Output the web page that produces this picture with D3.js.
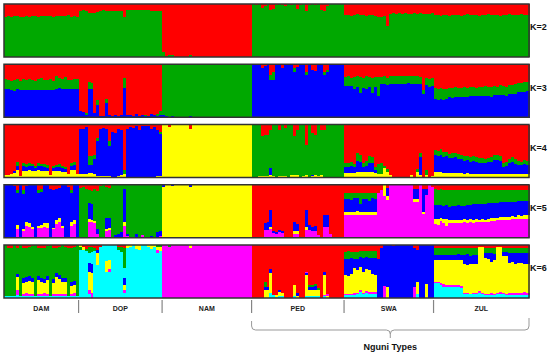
<!DOCTYPE html>
<html>
<head>
<meta charset="utf-8">
<script src="https://cdn.jsdelivr.net/npm/d3@7"></script>
<style>
body { margin: 0; background: #fff; }
svg { display: block; font-family: "Liberation Sans", Arial, sans-serif; }
</style>
</head>
<body>
<svg id="chart" width="550" height="356"></svg>
<script>
// populations, in plot order, and how many animals each has
var groups = ["DAM", "DOP", "NAM", "PED", "SWA", "ZUL"];
var groupSizes = [25, 28, 30, 31, 30, 32];
var kLabels = ["K=2", "K=3", "K=4", "K=5", "K=6"];
var bracketLabel = "Nguni Types";

// membership per animal, one string per population.
// each animal: cluster letter + percent, listed top to bottom (no number = 100)
var k2 = [
  "r24g76 r23g77 r24g76 r22g78 r23g77 r24g76 r24g76 r23g77 r24g76 r23g77 r22g78 r24g76 r23g77 r23g77 r22g78 r23g77 r24g76 r23g77 r22g78 r23g77 r22g78 r21g79 r24g76 r23g77 r24g76",
  "r13g87 r12g88 r13g87 r17g83 r17g83 r17g83 r16g84 r13g87 r12g88 r13g87 r13g87 r14g86 r13g87 r14g86 r13g87 r25g75 r12g88 r11g89 r11g89 r12g88 r11g89 r12g88 r11g89 r12g88 r13g87 r13g87 r14g86 r14g86",
  "r91g9 r98g2 r97g3 r97g3 r r r r r r97g3 r r r r r r r r r r r r r r r r r r r r",
  "g r2g98 g r8g92 r3g97 g r11g89 r10g90 r2g98 g r1g99 r3g97 g r2g98 g r10g90 r1g99 g r13g87 r2g98 g r1g99 g r11g89 r13g87 r3g97 g g g g g",
  "r21g79 r20g80 r22g78 r21g79 r19g81 r21g79 r20g80 r22g78 r21g79 r20g80 r22g78 r25g75 r25g75 r23g77 r41g59 r18g82 r17g83 r18g82 r17g83 r18g82 r17g83 r18g82 r19g81 r17g83 r18g82 r17g83 r18g82 r19g81 r18g82 r17g83",
  "r20g80 r21g79 r22g78 r21g79 r20g80 r22g78 r21g79 r20g80 r21g79 r22g78 r20g80 r19g81 r21g79 r20g80 r21g79 r22g78 r20g80 r21g79 r19g81 r20g80 r21g79 r20g80 r22g78 r21g79 r20g80 r19g81 r21g79 r20g80 r20g80 r19g81 r21g79 r20g80"
];
var k3 = [
  "r28g18b54 r30g17b53 r31g18b51 r29g21b50 r27g19b54 r32g17b51 r28g20b52 r30g18b52 r27g21b52 r29g19b52 r31g17b52 r28g20b52 r26g22b52 r30g18b52 r29g19b52 r27g21b52 r31g17b52 r22g24b54 r25g20b55 r28g19b53 r24g23b53 r30g17b53 r29g18b53 r27g20b53 r28g19b53",
  "r88b12 r90b10 r92g3b5 r33g14b53 r35g12b53 r92b8 r67g9b24 r98b2 r97b3 r65g9b26 r96b4 r97b3 r95b5 r97b3 r96b4 r25g20b55 r96b4 r95b5 r97b3 r94b6 r98b2 r96b4 r95g2b3 r97b3 r94b6 r96b4 r93g4b3 r88g8b4",
  "g95b5 g97b3 g g98b2 g g g g g g98b2 g g g g g g g g g g g g g g g g g g g g",
  "b b b r8b92 r3b97 b r20g9b71 r14g16b70 b b r8b92 b b b r8g6b86 r6b94 b b r14g6b80 b r11b89 r12b88 b b r14g6b80 r10g4b86 b b b b b",
  "r24g17b59 r23g18b59 r25g16b59 r24g22b54 r23g20b57 r24g31b45 r25g20b55 r23g23b54 r24g19b57 r25g30b45 r24g18b58 r24g36b40 r24g14b62 r22g15b63 r25g14b61 r22g15b63 r23g14b63 r22g16b62 r23g15b62 r22g16b62 r23g15b62 r22g14b64 r23g15b62 r22g16b62 r23g15b62 r24g14b62 r49g8b43 r26g14b60 r27g16b57 r26g15b59",
  "r45g20b35 r46g21b33 r44g22b34 r47g20b33 r46g19b35 r44g18b38 r45g19b36 r43g18b39 r44g18b38 r45g17b38 r43g18b39 r44g17b39 r42g18b40 r43g17b40 r44g16b40 r42g18b40 r43g17b40 r41g18b41 r42g17b41 r43g18b39 r41g17b42 r42g16b42 r40g18b42 r41g17b42 r42g18b40 r39g18b43 r40g17b43 r37g19b44 r35g18b47 r36g17b47 r34g18b48 r33g17b50"
];
var k4 = [
  "r95y5 r96y4 r93y7 r88b4y8 r70g8b8y14 r97y3 r73g6b8y13 r75g5b7y13 r72g6b8y14 r74g5b8y13 r78g4b6y12 r73g6b7y14 r74g5b8y13 r75g6b7y12 r77g5b6y12 r95y5 r78g4b6y12 r76g5b7y12 r75g6b7y12 r78g5b6y11 r80g4b5y11 r94y6 r72g6b8y14 r70g7b9y14 r93y7",
  "r9b84y7 r8b85y7 r5b88y7 r59g17b16y8 r60g17b15y8 r58g8b27y7 r25g6b66y3 r8b90y2 r6b92y2 r8b90y2 r32g8b58y2 r15b84y1 r16b83y1 r8b90y2 r10b85y5 r86g8y6 r8b92 r5b95 r6b94 r3b97 r10b90 r3b97 r2b98 r3b97 r9b91 r4b96 r10b88y2 r14g4b80y2",
  "y y r4y96 y y y y y y r8y92 y y y y y y y y y y y y y y y y y y y y",
  "g g g98y2 r22g76y2 r19g79y2 r19g78y3 r10g72b13y5 g97y3 g r10g88y2 g97y3 r6g92y2 g g96y4 r21g75y4 r10g86y4 g g97y3 r38g58y4 g r16g80b2y2 r19g77y4 g97y3 r10g86y4 r10g90 g g g g g g",
  "r72g8b12y8 r73g7b11y9 r70g9b12y9 r75g6b10y9 r54g14b21y11 r58g12b19y11 r72g8b10y10 r68g10b12y10 r60g12b18y10 r62g10b17y11 r80g6b6y8 r74g20y6 r72g22y6 r78g4y18 r84g6y10 r96y4 r r r r r r r96y4 r r84g6y10 r54g8b34y4 r r86g10y4 r r98y2",
  "r48g10b32y10 r50g9b31y10 r47g11b32y10 r52g10b29y9 r51g9b31y9 r55g8b28y9 r54g10b28y8 r53g9b29y9 r56g9b27y8 r58g8b26y8 r60g9b24y7 r59g8b25y8 r61g9b23y7 r60g8b25y7 r62g9b22y7 r64g8b21y7 r63g9b21y7 r65g8b20y7 r64g7b22y7 r62g9b22y7 r58g9b26y7 r57g10b26y7 r60g9b24y7 r72g8b13y7 r70g9b14y7 r65g8b20y7 r62g9b22y7 r66g8b19y7 r68g8b17y7 r70g7b16y7 r67g8b18y7 r68g8b17y7"
];
var k5 = [
  "b b b r3b97 r10g6b60y8m16 b r9g9b66y3m13 r2b68y8m22 b72y8m20 b80y4m16 b r9g6b62y5m18 r8g5b63y5m19 b72y8m20 b73y8m19 r8b92 r10b72y2m16 r8b58y8m26 r6b56y8m30 b78y3m19 b r5b95 r10g5b55y8m22 b66y8m26 b",
  "r6g94 r5g93b2 r8g92 r10g25b30y5m30 r12g24b30y4m30 r8g60y4m28 r12g72b8m8 r3g97 g r4g58b22y3m13 r6g56b20y4m14 g g95b5 g93b7 g90b10 g8b62y8m22 g92b5m3 g g g93b7 g g95m5 g g g96b4 g g90b10 g88b8m4",
  "b4y96 y y b3y97 y y y y y b4y96 y y y y y y y y y y y y y y y y y y y y",
  "r r r r r72b14m14 r70b16m14 r48b32y4m16 r88b3m9 r90b2m8 r86b4m10 r88b3m9 r r r r70b18y4m8 r74b14y4m8 r r r48b32y5m15 r76b10m14 r80b8m12 r78b10m12 r95m5 r r57b23m20 r57b22m21 r92m8 r r r r",
  "r16g10b25y6m43 r15g11b26y5m43 r16g12b24y6m42 r15g10b27y6m42 r16g9b25y7m43 r15g22b15y6m42 r16g10b26y5m43 r15g11b25y7m42 r16g14b22y6m42 r15g10b26y6m43 r16g11b25y5m43 r16m84 r10m90 y22m78 r6b16y6m72 m m m m m m m m r8b18y6m68 r8b18y6m68 m r8b44y4m44 r8b12m80 m r4m96",
  "r8g30b26y10m26 r9g29b27y10m25 r8g30b25y6m31 r10g31b24y7m28 r9g30b26y12m23 r10g32b25y6m27 r9g31b26y6m28 r10g30b27y5m28 r9g29b28y6m28 r10g30b26y6m28 r9g31b25y6m29 r10g28b28y6m28 r9g29b27y5m30 r10g27b29y6m28 r9g28b28y6m29 r10g26b30y5m29 r9g27b29y6m29 r10g26b30y5m29 r9g25b31y6m29 r10g25b28y6m31 r9g25b28y6m32 r10g24b28y5m33 r9g24b28y6m33 r10g23b28y5m34 r9g24b27y7m33 r10g22b28y6m34 r9g23b27y6m35 r10g22b28y5m35 r9g22b27y6m36 r10g21b28y5m36 r9g22b27y6m36 r10g21b27y6m36"
];
var k6 = [
  "g96c4 r5g91c4 r5g91c4 g96c4 r6g48b6y25m10c5 g96c4 r6g57b8y21m4c4 r6g54b9y22m5c4 r4g55b9y24m4c4 r2g61b7y22m4c4 g96c4 r6g52b8y26m4c4 r6g56b8y22m4c4 r5g60b7y18m6c4 r2g56b8y26m4c4 g96c4 r6g58b7y21m4c4 r6g47b8y31m4c4 r4g52b8y28m4c4 g62b7y23m4c4 r4g58b7y23m4c4 r6g90c4 r5g64b8y15m4c4 r4g64b8y15m5c4 g96c4",
  "y4g6c90 r4y6c90 r8g4c88 r4g12c18b16y34m8c8 r4g10c22b16y38m10 r6g6c88 r10b6y22c62 r4c96 c c30y20c50 c28y18m4c50 c c r4g6c90 r4g10c86 r6g38c18b13y10m5c10 y6c94 y4c96 c y8c92 y10c90 c c y4c96 y8c92 y4c96 g4y6m6c84 g4y8c88",
  "m m g3m97 m m m m m m y6m94 m m m m m m m m m m m m m m m m m m m m",
  "r r r r r70g9b6y15 r80b4y16 r46b6y38c10 r94c6 r94y4c2 r84b4y8c4 r90y6c4 r r r r76y20c4 r90b6y4 r r r50m3b4y40c3 r76g4b4y12c4 r76g4b4y12c4 r74g4b6y12c4 r82g2y12c4 r r50b6y38m2c4 r92m4y4 r r r r r",
  "r13g13b30y36m2c6 r12g14b32y34m2c6 r13g12b30y37m2c6 r13g13b18y46m4c6 r14g12b22y42m3c7 r12g10b20y42m4c12 r12g12b26y40m2c8 r12g10b24y40m4c10 r11g13b24y40m5c7 r12g12b30y34m4c8 r12g12b32y32m4c8 r26b74 r6b94 b78m22 b80y20 b r2b98 b b b b b b r6b74m20 r10b60y22c8 b b b74y26 b b",
  "r6g13b10y41m2c28 r6g12b10y42m2c28 r5g14b10y43m3c25 r6g13b10y45m6c20 r6g12b11y46m5c20 r5g13b10y47m4c21 r6g12b10y48m4c20 r6g13b10y46m5c20 r5g12b11y47m5c20 r6g13b10y48m4c19 r6g12b18y55m2c7 r5g12b20y54m2c7 r6g14b16y56m1c7 r6g12b18y55m2c7 r5g13b17y56m2c7 r3y84m3c10 r4y86m2c8 r5g10b10y67m3c5 r6g10b10y66m3c5 r6g10b16y58m4c6 r5g12b12y63m3c5 r3y88m2c7 r4y85m3c8 r6g8b6y70m2c8 r5g9b6y72m2c6 r6g10b18y56m4c6 r6g9b18y57m4c6 r5g10b20y55m4c6 r6g9b19y56m4c6 r6g10b18y57m3c6 r5g10b20y54m5c6 r6g9b20y55m4c6"
];

var colors = {r: "#ff0000", g: "#00a800", b: "#0000ff", y: "#ffff00", m: "#ff00ff", c: "#00ffff"};

function parseInd(s) {
  var segs = [];
  s.replace(/([rgbymc])(\d*)/g, function(_, k, v) { segs.push({k: k, v: v === "" ? 100 : +v}); });
  var tot = d3.sum(segs, function(d) { return d.v; }), acc = 0;
  segs.forEach(function(d) { d.y0 = acc / tot; acc += d.v; d.y1 = acc / tot; });
  return segs;
}

var svg = d3.select("#chart");
var total = d3.sum(groupSizes);
var starts = d3.cumsum([0].concat(groupSizes));

var x = d3.scaleBand().domain(d3.range(total)).range([4, 529]).paddingInner(0);
var panelTop = d3.scaleLinear().domain([0, 4]).range([4, 245]);
var panelH = 53;

[k2, k3, k4, k5, k6].forEach(function(kdata, ki) {
  var top = panelTop(ki);
  var y = d3.scaleLinear().domain([0, 1]).range([top, top + panelH]);
  var inds = [];
  kdata.forEach(function(str) {
    str.trim().split(/\s+/).forEach(function(s) { inds.push(parseInd(s)); });
  });
  var g = svg.append("g");
  var cols = g.append("g").attr("shape-rendering", "crispEdges")
    .selectAll("g").data(inds).enter().append("g");
  cols.selectAll("rect").data(function(d, i) { return d.map(function(s) { return {s: s, i: i}; }); })
    .enter().append("rect")
    .attr("x", function(d) { return x(d.i); })
    .attr("width", x.bandwidth() + 0.6)
    .attr("y", function(d) { return y(d.s.y0); })
    .attr("height", function(d) { return y(d.s.y1) - y(d.s.y0) + 0.4; })
    .attr("fill", function(d) { return colors[d.s.k]; });
  g.append("rect").attr("x", 4).attr("y", top).attr("width", 525).attr("height", panelH)
    .attr("fill", "none").attr("stroke", "#333").attr("stroke-width", 1.5);
  svg.append("text").text(kLabels[ki]).attr("x", 530).attr("y", top + 24)
    .attr("dominant-baseline", "middle").attr("font-size", 9).attr("font-weight", "bold").attr("fill", "#111");
});

// population labels and dividers under the last panel
var bottom = panelTop(4) + panelH;
starts.slice(1, groups.length).forEach(function(s) {
  svg.append("line").attr("x1", x(s)).attr("x2", x(s)).attr("y1", bottom + 2).attr("y2", bottom + 15)
    .attr("stroke", "#858585").attr("stroke-width", 1.2);
});
groups.forEach(function(name, i) {
  var cx = (x(starts[i]) + (starts[i + 1] < total ? x(starts[i + 1]) : 529)) / 2;
  svg.append("text").text(name).attr("x", cx).attr("y", bottom + 11)
    .attr("text-anchor", "middle").attr("dominant-baseline", "middle")
    .attr("font-size", 7).attr("font-weight", "bold").attr("fill", "#222");
});

// brace over the Nguni populations (PED..ZUL)
var bx0 = x(starts[3]), bx1 = 529, bm = (bx0 + bx1) / 2, by = 330;
svg.append("path")
  .attr("d", "M" + bx0 + "," + 321 + " V" + (by - 4) + " Q" + bx0 + "," + by + " " + (bx0 + 4) + "," + by +
             " H" + (bm - 4) + " Q" + bm + "," + by + " " + bm + "," + (by + 4) + " V" + (by + 8) +
             " M" + bx1 + "," + 318 + " V" + (by - 4) + " Q" + bx1 + "," + by + " " + (bx1 - 4) + "," + by +
             " H" + (bm + 4) + " Q" + bm + "," + by + " " + bm + "," + (by + 4))
  .attr("fill", "none").attr("stroke", "#999").attr("stroke-width", 1);
svg.append("text").text(bracketLabel).attr("x", bm).attr("y", 350)
  .attr("text-anchor", "middle").attr("font-size", 9).attr("font-weight", "bold").attr("fill", "#111");
</script>
</body>
</html>
